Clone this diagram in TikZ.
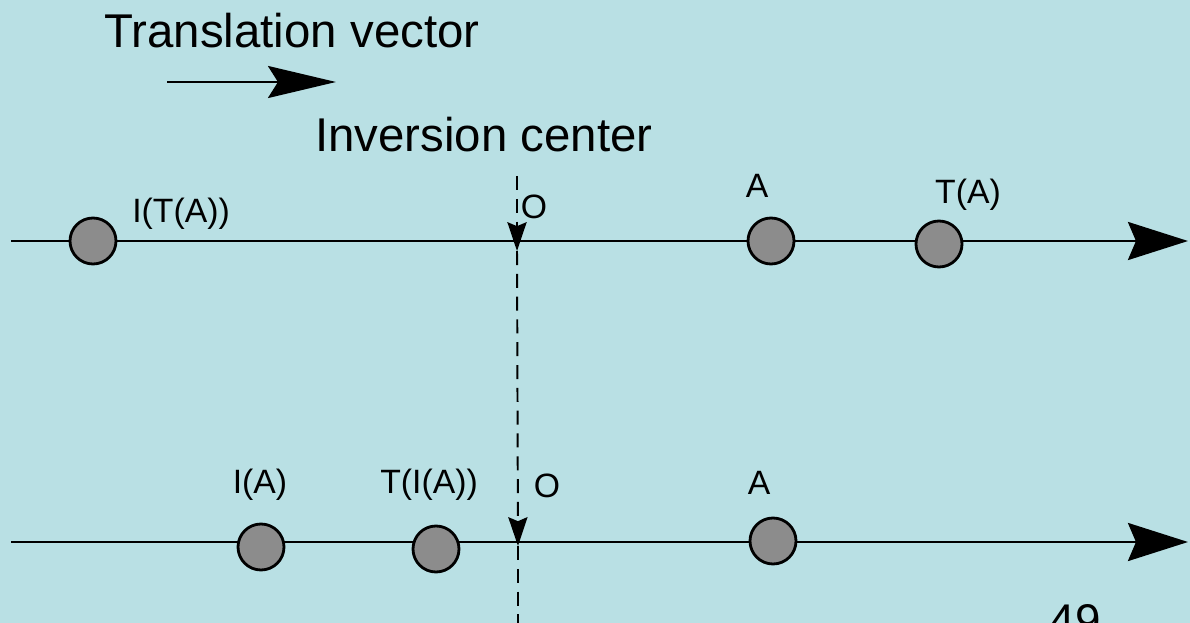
\documentclass[tikz,border=0pt]{standalone}
\usepackage{fontspec}
\setmainfont{Liberation Sans}
\usetikzlibrary{arrows.meta,positioning}

\definecolor{slidebg}{RGB}{185,224,228}
\definecolor{atomgray}{RGB}{140,140,140}

\begin{document}
\begin{tikzpicture}[x=0.025cm,y=-0.025cm]

% --- STYLES ---
\tikzset{
  title/.style={font=\fontsize{33.7}{40}\selectfont, inner sep=0pt},
  ptlabel/.style={font=\fontsize{24}{29}\selectfont, inner sep=0pt},
  pagenum/.style={font=\fontsize{32.6}{39}\selectfont, inner sep=0pt},
  atom/.style={circle, draw=black, line width=2pt, fill=atomgray,
               minimum size=1.15cm, inner sep=0pt},
  axisline/.style={black, line width=2pt,
                   -{Stealth[length=1.5cm, width=0.95cm, inset=0.2cm]}},
  transvec/.style={black, line width=1.8pt,
                   -{Stealth[length=1.7cm, width=0.8cm, inset=0.25cm]}},
  centerline/.style={black, line width=1.4pt, dash pattern=on 0.35cm off 0.22cm},
  centertip/.style={-{Stealth[length=0.72cm, width=0.48cm, inset=0.1cm]}},
}

% ================= PAGE =================
\useasboundingbox (0,0) rectangle (1190,623);
\clip (0,0) rectangle (1190,623);
\fill[slidebg] (0,0) rectangle (1190,623);

% ================= TITLES =================
\node[title] (ttrans) at (292,31) {Translation vector};
\coordinate (tvL) at (167,82);
\coordinate (tvR) at (336,82);
\draw[transvec] (tvL) -- (tvR);

\node[title] (tinv) at (484,135) {Inversion center};

% ================= AXES =================
\coordinate (topL) at (11,241);
\coordinate (topR) at (1188,241);
\coordinate (botL) at (11,542);
\coordinate (botR) at (1188,542);
\draw[axisline] (topL) -- (topR);
\draw[axisline] (botL) -- (botR);

% ================= INVERSION CENTER (dashed) =================
\coordinate (oTop)  at (517,176);
\coordinate (oTip1) at (517,251);
\coordinate (oTip2) at (518,546);
\coordinate (oBot)  at (518,640);
\draw[centerline, centertip] (oTop) -- (oTip1);
\draw[centerline, centertip] (oTip1) -- (oTip2);
\draw[centerline] (oTip2) -- (oBot);

% ================= TOP ROW =================
\node[atom] (itaT) at (93,241)  {};
\node[atom] (aT)   at (771,241) {};
\node[atom] (taT)  at (939,244) {};

\node[ptlabel] (litaT) at (181,214) {I(T(A))};
\node[ptlabel] (loT)   at (534,207) {O};
\node[ptlabel] (laT)   at (757,186) {A};
\node[ptlabel] (ltaT)  at (968,195) {T(A)};

% ================= BOTTOM ROW =================
\node[atom] (iaB)  at (261,547) {};
\node[atom] (tiaB) at (436,549) {};
\node[atom] (aB)   at (773,541) {};

\node[ptlabel] (liaB)  at (260,485) {I(A)};
\node[ptlabel] (ltiaB) at (429,485) {T(I(A))};
\node[ptlabel] (loB)   at (547,486) {O};
\node[ptlabel] (laB)   at (759,483) {A};

% ================= PAGE NUMBER =================
\node[pagenum, anchor=base] (pnum) at (1075,636) {49};

\end{tikzpicture}
\end{document}
